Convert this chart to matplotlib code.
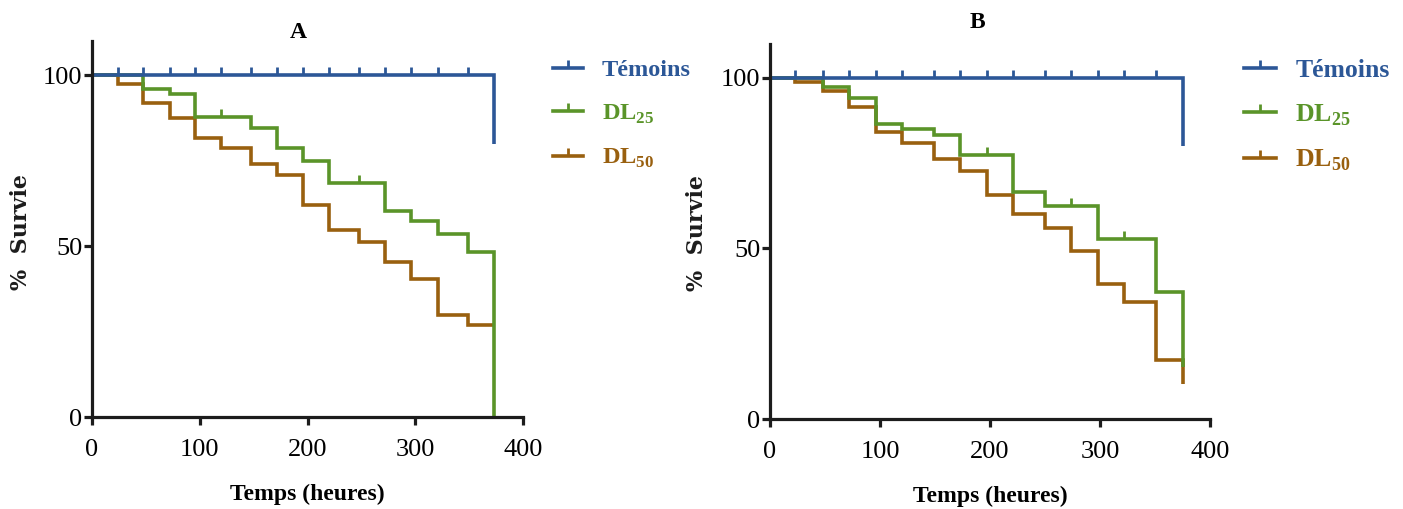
import numpy as np
import matplotlib
matplotlib.use("Agg")
import matplotlib.pyplot as plt
from matplotlib.lines import Line2D

plt.rcParams['font.family'] = ['Liberation Serif', 'DejaVu Serif']
plt.rcParams['mathtext.fontset'] = 'custom'
plt.rcParams['mathtext.rm'] = 'Liberation Serif'
plt.rcParams['mathtext.bf'] = 'Liberation Serif:bold'

BLUE = '#2c5797'
GREEN = '#5a9429'
BROWN = '#99600f'
AXC = '#1c1c1c'

# ---- Panel A (heures, % survie) ----
temoins_A_t = [0, 373]
temoins_A_s = [100, 80]
temoins_A_cens = [24, 47, 72, 96, 120, 148, 172, 196, 220, 248, 272, 296, 321, 349]

dl25_A_t = [0, 47, 72, 96, 148, 172, 196, 220, 272, 296, 321, 349, 373]
dl25_A_s = [100, 95.9, 94.4, 87.9, 84.5, 78.8, 75.0, 68.5, 60.3, 57.3, 53.6, 48.2, 0]
dl25_A_cens = [120, 248]

dl50_A_t = [0, 24, 47, 72, 96, 120, 148, 172, 196, 220, 248, 272, 296, 321, 349, 373]
dl50_A_s = [100, 97.5, 92.0, 87.5, 81.7, 78.7, 74.0, 70.8, 62.0, 54.8, 51.3, 45.2,
            40.5, 29.7, 26.8, 26.8]
dl50_A_cens = []

# ---- Panel B ----
temoins_B_t = [0, 375]
temoins_B_s = [100, 80]
temoins_B_cens = [23, 48, 72, 96, 120, 149, 173, 197, 221, 250, 274, 298, 322, 351]

dl25_B_t = [0, 48, 72, 96, 120, 149, 173, 221, 250, 298, 351, 375]
dl25_B_s = [100, 97.4, 94.2, 86.5, 84.9, 83.1, 77.5, 66.5, 62.3, 52.7, 37.1, 15.3]
dl25_B_cens = [197, 274, 322]

dl50_B_t = [0, 23, 48, 72, 96, 120, 149, 173, 197, 221, 250, 274, 298, 322, 351, 375]
dl50_B_s = [100, 98.8, 96.0, 91.5, 84.1, 80.9, 76.2, 72.8, 65.5, 60.0, 55.9, 49.2,
            39.5, 34.2, 17.3, 10.4]
dl50_B_cens = []

W, H = 1403, 509


def px_axes(fig, left, right, bottom, top):
    return fig.add_axes([left / W, (H - bottom) / H, (right - left) / W, (bottom - top) / H])


def km(ax, t, s, cens, color):
    ax.step(t, s, where='post', color=color, lw=2.6, solid_joinstyle='miter',
            solid_capstyle='butt')
    if cens:
        t = np.asarray(t)
        s = np.asarray(s)
        idx = np.searchsorted(t, cens, side='right') - 1
        ax.plot(cens, s[idx], ls='none', marker=2, ms=5.5, mew=2, color=color)


def style(ax):
    ax.set_xlim(0, 400)
    ax.set_ylim(0, 110)
    ax.set_xticks([0, 100, 200, 300, 400])
    ax.set_yticks([0, 50, 100])
    for side in ['top', 'right']:
        ax.spines[side].set_visible(False)
    for side in ['left', 'bottom']:
        ax.spines[side].set_linewidth(2.3)
        ax.spines[side].set_color(AXC)
    ax.tick_params(direction='out', length=6, width=2.3, color=AXC,
                   labelsize=19, pad=1)
    ax.tick_params(axis='x', pad=10)
    ax.set_xlabel('Temps (heures)', fontsize=17, fontweight='bold', labelpad=16)
    ax.patch.set_alpha(0)


def legend(ax, x, y, size, spacing):
    handles = [Line2D([], [], color=c, lw=2.6, marker=2, ms=5.5, mew=2)
               for c in [BLUE, GREEN, BROWN]]
    labels = ['Témoins', r'DL$_{\mathbf{25}}$', r'DL$_{\mathbf{50}}$']
    ax.legend(handles, labels, loc='upper left', bbox_to_anchor=(x / W, (H - y) / H),
              bbox_transform=ax.figure.transFigure, frameon=False, numpoints=1,
              prop={'size': size, 'weight': 'bold'}, labelcolor='linecolor',
              handlelength=1.25, handletextpad=0.75, labelspacing=spacing,
              borderpad=0, borderaxespad=0)


fig = plt.figure(figsize=(W / 100, H / 100), dpi=100)

axA = px_axes(fig, 92, 523, 417, 41)
km(axA, dl50_A_t, dl50_A_s, dl50_A_cens, BROWN)
km(axA, dl25_A_t, dl25_A_s, dl25_A_cens, GREEN)
km(axA, temoins_A_t, temoins_A_s, temoins_A_cens, BLUE)
style(axA)
legend(axA, 553, 59, 17.5, 0.88)
fig.text(298 / W, 1 - 33 / H, 'A', ha='center', va='center', fontsize=17, fontweight='bold')
fig.text(21 / W, 1 - 232 / H, '%  Survie', rotation=90, ha='center', va='center',
         fontsize=16, fontweight='bold', family='DejaVu Serif', color=AXC)

axB = px_axes(fig, 770, 1210, 419, 43.6)
km(axB, dl50_B_t, dl50_B_s, dl50_B_cens, BROWN)
km(axB, dl25_B_t, dl25_B_s, dl25_B_cens, GREEN)
km(axB, temoins_B_t, temoins_B_s, temoins_B_cens, BLUE)
style(axB)
legend(axB, 1244, 59, 18.5, 0.78)
fig.text(977 / W, 1 - 23 / H, 'B', ha='center', va='center', fontsize=17, fontweight='bold')
fig.text(697 / W, 1 - 233 / H, '%  Survie', rotation=90, ha='center', va='center',
         fontsize=16, fontweight='bold', family='DejaVu Serif', color=AXC)

fig.savefig('out.png', dpi=100)
